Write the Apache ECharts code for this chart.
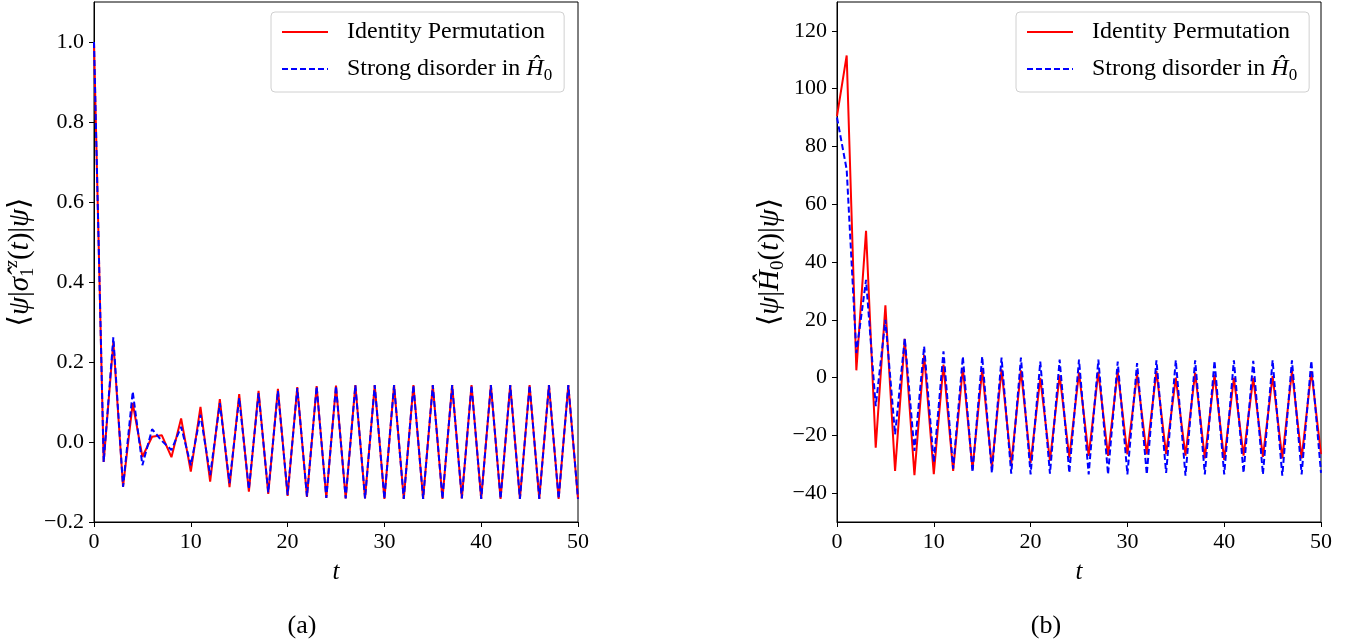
<!DOCTYPE html>
<html>
<head>
<meta charset="utf-8">
<script src="https://cdn.jsdelivr.net/npm/echarts@6/dist/echarts.min.js"></script>
<style>
html,body{margin:0;padding:0;background:#fff;}
#chart{width:1362px;height:643px;}
</style>
</head>
<body>
<div id="chart"></div>
<script>
// ---- data ----
const seriesNames = ['Identity Permutation', 'Strong disorder in Ĥ0'];
const timeSteps = Array.from({length: 51}, (_, i) => i);

// panel (a): <psi|sigma_1^z(t)|psi>
const sigmaIdentity = [
  1.0, -0.05, 0.25, -0.112, 0.097, -0.037, 0.013, 0.017, -0.038, 0.059,
  -0.074, 0.088, -0.099, 0.107, -0.113, 0.12, -0.124, 0.128, -0.13, 0.133,
  -0.135, 0.137, -0.137, 0.14, -0.14, 0.141, -0.141, 0.142, -0.141, 0.142,
  -0.142, 0.142, -0.142, 0.142, -0.142, 0.142, -0.142, 0.142, -0.141, 0.142,
  -0.142, 0.142, -0.142, 0.142, -0.142, 0.142, -0.142, 0.142, -0.142, 0.142,
  -0.142
];
const sigmaDisorder = [
  1.0, -0.05, 0.262, -0.112, 0.126, -0.058, 0.032, 0.003, -0.02, 0.038,
  -0.058, 0.068, -0.083, 0.097, -0.103, 0.11, -0.118, 0.122, -0.126, 0.128,
  -0.132, 0.135, -0.136, 0.139, -0.14, 0.14, -0.141, 0.142, -0.141, 0.142,
  -0.142, 0.142, -0.142, 0.142, -0.142, 0.142, -0.142, 0.142, -0.141, 0.142,
  -0.142, 0.142, -0.142, 0.142, -0.142, 0.142, -0.142, 0.142, -0.142, 0.142,
  -0.142
];

// panel (b): <psi|H0(t)|psi>
const energyIdentity = [
  90.5, 111.5, 2.5, 50.8, -24.3, 25, -32.3, 13.4, -33.8, 7.9,
  -33.4, 4.5, -32.3, 3.4, -31.7, 2.8, -31.1, 2.8, -30, 2.5,
  -29.5, -0.1, -28.8, 0.8, -27.7, 1.8, -27.1, 2, -27.1, 2.2,
  -26.6, 1.2, -26.6, 2.2, -26.5, 0, -27, 1.7, -28, 1,
  -28.5, -0.1, -27, -0.1, -27.5, 0.5, -28, 2.2, -28, 2.2,
  -26.5
];
const energyDisorder = [
  90, 72, 8.5, 33.8, -9.9, 20, -19.7, 13.6, -25.4, 10.8,
  -29.4, 9.1, -31.5, 7.3, -32.8, 7.3, -33, 6.9, -33.3, 6.9,
  -33.5, 5.5, -33.3, 6.2, -33, 6.2, -33.5, 6.2, -33.5, 5.5,
  -33.5, 5, -33.5, 6, -33, 6, -34, 6, -33.5, 5.8,
  -33.5, 6, -33, 5.8, -33.5, 6, -34, 6, -33.5, 5.8,
  -33
];

const xTicks = [0, 10, 20, 30, 40, 50];
const yTicksA = [-0.2, 0.0, 0.2, 0.4, 0.6, 0.8, 1.0];
const yTicksB = [-40, -20, 0, 20, 40, 60, 80, 100, 120];
const captions = ['(a)', '(b)'];

// ---- styling ----
const FONT = '"Liberation Serif", "DejaVu Serif", serif';
const minus = s => String(s).replace('-', '\u2212');

function pairs(ys) { return timeSteps.map((t, i) => [t, ys[i]]); }

function xAxis(gridIndex) {
  return {
    type: 'value', gridIndex, min: 0, max: 50, interval: 10,
    name: 't', nameLocation: 'middle', nameGap: 38,
    nameTextStyle: {fontFamily: FONT, fontStyle: 'italic', fontSize: 25, color: '#000'},
    axisLine: {show: true, onZero: false, lineStyle: {color: '#000', width: 1}},
    axisTick: {show: true, inside: false, length: 5, lineStyle: {color: '#000'}, customValues: xTicks},
    axisLabel: {fontFamily: FONT, fontSize: 22, color: '#000', margin: 9, customValues: xTicks},
    splitLine: {show: false}
  };
}

const labelRich = {
  n: {fontFamily: FONT, fontSize: 29, color: '#000', lineHeight: 36},
  i: {fontFamily: FONT, fontStyle: 'italic', fontSize: 29, color: '#000', lineHeight: 36},
  sub: {fontFamily: FONT, fontSize: 19, color: '#000', verticalAlign: 'bottom', lineHeight: 36},
  sup: {fontFamily: FONT, fontStyle: 'italic', fontSize: 19, color: '#000', verticalAlign: 'top', lineHeight: 36}
};

function yAxis(gridIndex, min, max, ticks, fmt, name, gap) {
  return {
    type: 'value', gridIndex, min, max,
    name, nameLocation: 'middle', nameRotate: 90, nameGap: gap,
    nameTextStyle: {fontFamily: FONT, fontSize: 29, color: '#000', rich: labelRich},
    axisLine: {show: true, onZero: false, lineStyle: {color: '#000', width: 1}},
    axisTick: {show: true, inside: false, length: 5, lineStyle: {color: '#000'}, customValues: ticks},
    axisLabel: {fontFamily: FONT, fontSize: 22, color: '#000', margin: 10, customValues: ticks,
      formatter: v => minus(fmt(v))},
    splitLine: {show: false}
  };
}

function legend(left) {
  return {
    left, top: 12, orient: 'vertical',
    data: seriesNames,
    itemWidth: 46, itemHeight: 14, itemGap: 13,
    padding: [8, 12, 8, 10],
    backgroundColor: '#fff',
    borderColor: '#d0d0d0', borderWidth: 1, borderRadius: 4,
    itemStyle: {opacity: 0},
    textStyle: {fontFamily: FONT, fontSize: 24, color: '#000', padding: [0, 0, 0, 14],
      rich: {
        h: {fontFamily: FONT, fontStyle: 'italic', fontSize: 24, color: '#000'},
        s: {fontFamily: FONT, fontSize: 17, color: '#000', verticalAlign: 'bottom', lineHeight: 30}
      }},
    formatter: n => n === seriesNames[1] ? 'Strong disorder in {h|Ĥ}{s|0}' : n
  };
}

function line(name, data, xi, color, dashed) {
  return {
    name, type: 'line', xAxisIndex: xi, yAxisIndex: xi,
    data: pairs(data), symbol: 'none', animation: false,
    lineStyle: {color, width: 2, type: dashed ? [6, 3] : 'solid'},
    itemStyle: {color},
    z: dashed ? 3 : 2
  };
}

const chart = echarts.init(document.getElementById('chart'), null, {renderer: 'canvas'});
chart.setOption({
  backgroundColor: '#fff',
  animation: false,
  grid: [
    {left: 94, top: 2, width: 484, height: 520, show: true, borderColor: '#000', borderWidth: 1,
      containLabel: false, outerBoundsMode: 'none'},
    {left: 837, top: 2, width: 484, height: 520, show: true, borderColor: '#000', borderWidth: 1,
      containLabel: false, outerBoundsMode: 'none'}
  ],
  xAxis: [xAxis(0), xAxis(1)],
  yAxis: [
    yAxis(0, -0.2, 1.1, yTicksA, v => Number(v).toFixed(1),
      '{n|⟨}{i|ψ}{n||}{i|σ̂}{sub|1}{sup|z}{n|(}{i|t}{n|)|}{i|ψ}{n|⟩}', 56),
    yAxis(1, -50, 130, yTicksB, v => String(Math.round(v)),
      '{n|⟨}{i|ψ}{n||}{i|Ĥ}{sub|0}{n|(}{i|t}{n|)|}{i|ψ}{n|⟩}', 49)
  ],
  legend: [legend(271), legend(1016)],
  title: [
    {text: captions[0], left: 297, top: 608, textAlign: 'center',
      textStyle: {fontFamily: FONT, fontSize: 26, fontWeight: 'normal', color: '#000'}},
    {text: captions[1], left: 1041, top: 608, textAlign: 'center',
      textStyle: {fontFamily: FONT, fontSize: 26, fontWeight: 'normal', color: '#000'}}
  ],
  series: [
    line(seriesNames[0], sigmaIdentity, 0, '#ff0000', false),
    line(seriesNames[1], sigmaDisorder, 0, '#0000ff', true),
    line(seriesNames[0], energyIdentity, 1, '#ff0000', false),
    line(seriesNames[1], energyDisorder, 1, '#0000ff', true)
  ]
});
</script>
</body>
</html>
